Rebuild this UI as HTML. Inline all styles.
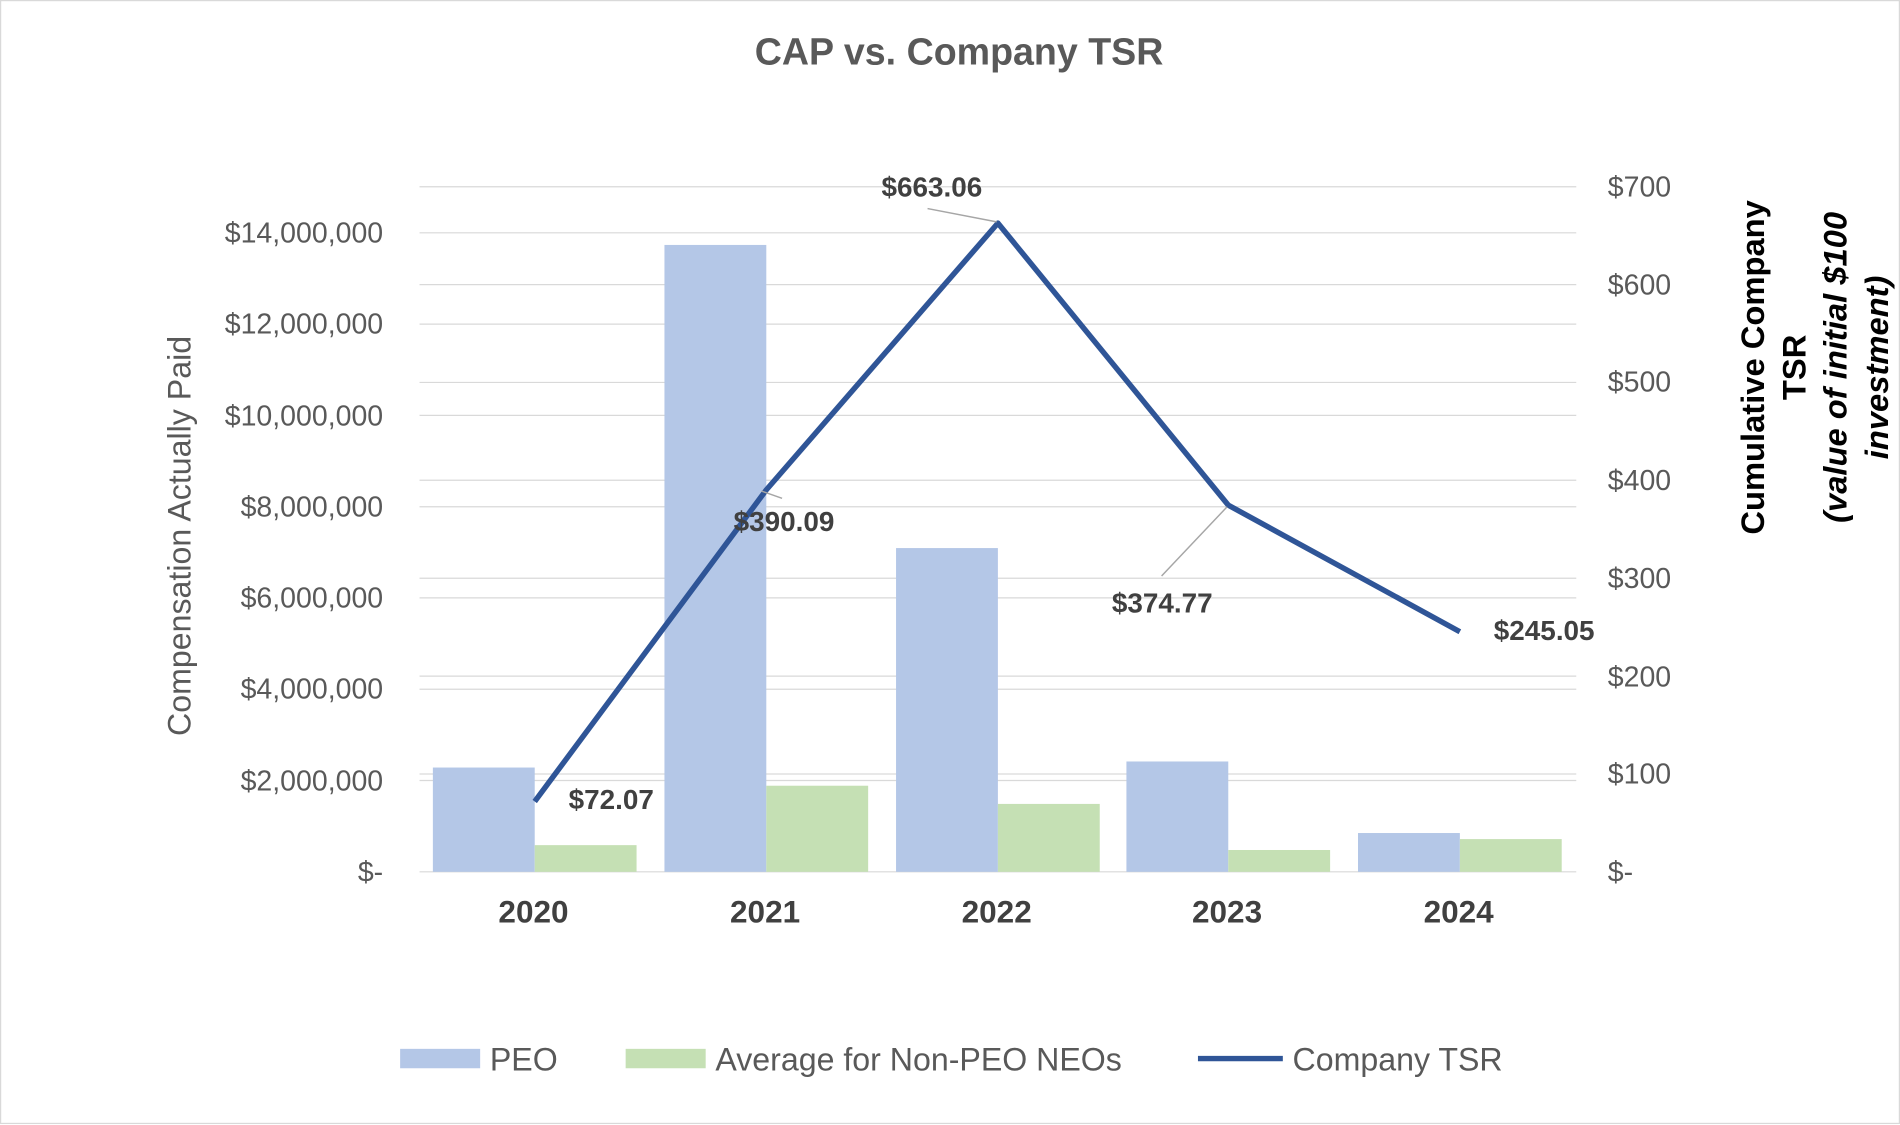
<!DOCTYPE html>
<html><head><meta charset="utf-8"><style>
html,body{margin:0;padding:0;background:#fff}
svg{display:block}
text{font-family:"Liberation Sans",Arial,sans-serif}
</style></head><body>
<svg width="1900" height="1125" viewBox="0 0 1567 927.8" preserveAspectRatio="none">
<rect x="0.5" y="0.5" width="1566" height="926" fill="#fff" stroke="#d9d9d9"/>
<text x="791" y="53" text-anchor="middle" font-size="31" font-weight="bold" fill="#595959">CAP vs. Company TSR</text>
<g stroke="#d9d9d9" stroke-width="1">
<line x1="346" x2="1300" y1="154" y2="154"/><line x1="346" x2="1300" y1="234.7" y2="234.7"/>
<line x1="346" x2="1300" y1="315.4" y2="315.4"/><line x1="346" x2="1300" y1="396.1" y2="396.1"/>
<line x1="346" x2="1300" y1="476.9" y2="476.9"/><line x1="346" x2="1300" y1="557.6" y2="557.6"/>
<line x1="346" x2="1300" y1="638.3" y2="638.3"/>
<line x1="346" x2="1300" y1="192" y2="192"/><line x1="346" x2="1300" y1="267.3" y2="267.3"/>
<line x1="346" x2="1300" y1="342.6" y2="342.6"/><line x1="346" x2="1300" y1="417.9" y2="417.9"/>
<line x1="346" x2="1300" y1="493.1" y2="493.1"/><line x1="346" x2="1300" y1="568.4" y2="568.4"/>
<line x1="346" x2="1300" y1="643.7" y2="643.7"/>
<line x1="346" x2="1300" y1="719" y2="719"/>
</g>
<g fill="#b4c7e7">
<rect x="357" y="633" width="84" height="86"/><rect x="548" y="202" width="84" height="517"/>
<rect x="739" y="452" width="84" height="267"/><rect x="929" y="628" width="84" height="91"/>
<rect x="1120" y="687" width="84" height="32"/>
</g>
<g fill="#c5e0b4">
<rect x="441" y="697" width="84" height="22"/><rect x="632" y="648" width="84" height="71"/>
<rect x="823" y="663" width="84" height="56"/><rect x="1013" y="701" width="84" height="18"/>
<rect x="1204" y="692" width="84" height="27"/>
</g>
<g font-size="23.5" fill="#595959" text-anchor="end">
<text x="316" y="200">$14,000,000</text><text x="316" y="275">$12,000,000</text>
<text x="316" y="351">$10,000,000</text><text x="316" y="426">$8,000,000</text>
<text x="316" y="501">$6,000,000</text><text x="316" y="576">$4,000,000</text>
<text x="316" y="652">$2,000,000</text><text x="316" y="727">$-</text>
</g>
<g font-size="23.5" fill="#595959" text-anchor="start">
<text x="1326" y="162">$700</text><text x="1326" y="243">$600</text><text x="1326" y="323">$500</text>
<text x="1326" y="404">$400</text><text x="1326" y="485">$300</text><text x="1326" y="566">$200</text>
<text x="1326" y="646">$100</text><text x="1326" y="727">$-</text>
</g>
<g font-size="26" font-weight="bold" fill="#404040" text-anchor="middle">
<text x="440" y="761">2020</text><text x="631" y="761">2021</text><text x="822" y="761">2022</text>
<text x="1012" y="761">2023</text><text x="1203" y="761">2024</text>
</g>
<text transform="translate(157,442) rotate(-90)" text-anchor="middle" font-size="26.5" fill="#595959">Compensation Actually Paid</text>
<g transform="translate(1498,303) rotate(-90)" text-anchor="middle" font-size="27" font-weight="bold" fill="#000">
<text x="0" y="-43">Cumulative Company</text><text x="0" y="-9">TSR</text>
<text x="0" y="25" font-style="italic">(value of initial $100</text>
<text x="0" y="59" font-style="italic">investment)</text>
</g>
<polyline points="441,661 632,404 823,184 1013,416.6 1204,521" fill="none" stroke="#2f5597" stroke-width="4.5" stroke-linejoin="round"/>
<g stroke="#a6a6a6" stroke-width="1.2">
<line x1="628" y1="405" x2="645" y2="411"/><line x1="765" y1="172" x2="822" y2="183"/>
<line x1="958" y1="475" x2="1012" y2="418"/>
</g>
<g font-size="23" font-weight="bold" fill="#404040">
<text x="469" y="667">$72.07</text><text x="605" y="438">$390.09</text>
<text x="727" y="162">$663.06</text><text x="917" y="505">$374.77</text>
<text x="1232" y="528">$245.05</text>
</g>
<rect x="330" y="865" width="66" height="16" fill="#b4c7e7"/>
<text x="404" y="883" font-size="26.5" fill="#595959">PEO</text>
<rect x="516" y="865" width="66" height="16" fill="#c5e0b4"/>
<text x="590" y="883" font-size="26.5" fill="#595959">Average for Non-PEO NEOs</text>
<line x1="988" y1="873" x2="1058" y2="873" stroke="#2f5597" stroke-width="4.5"/>
<text x="1066" y="883" font-size="26.5" fill="#595959">Company TSR</text>
</svg>
</body></html>
